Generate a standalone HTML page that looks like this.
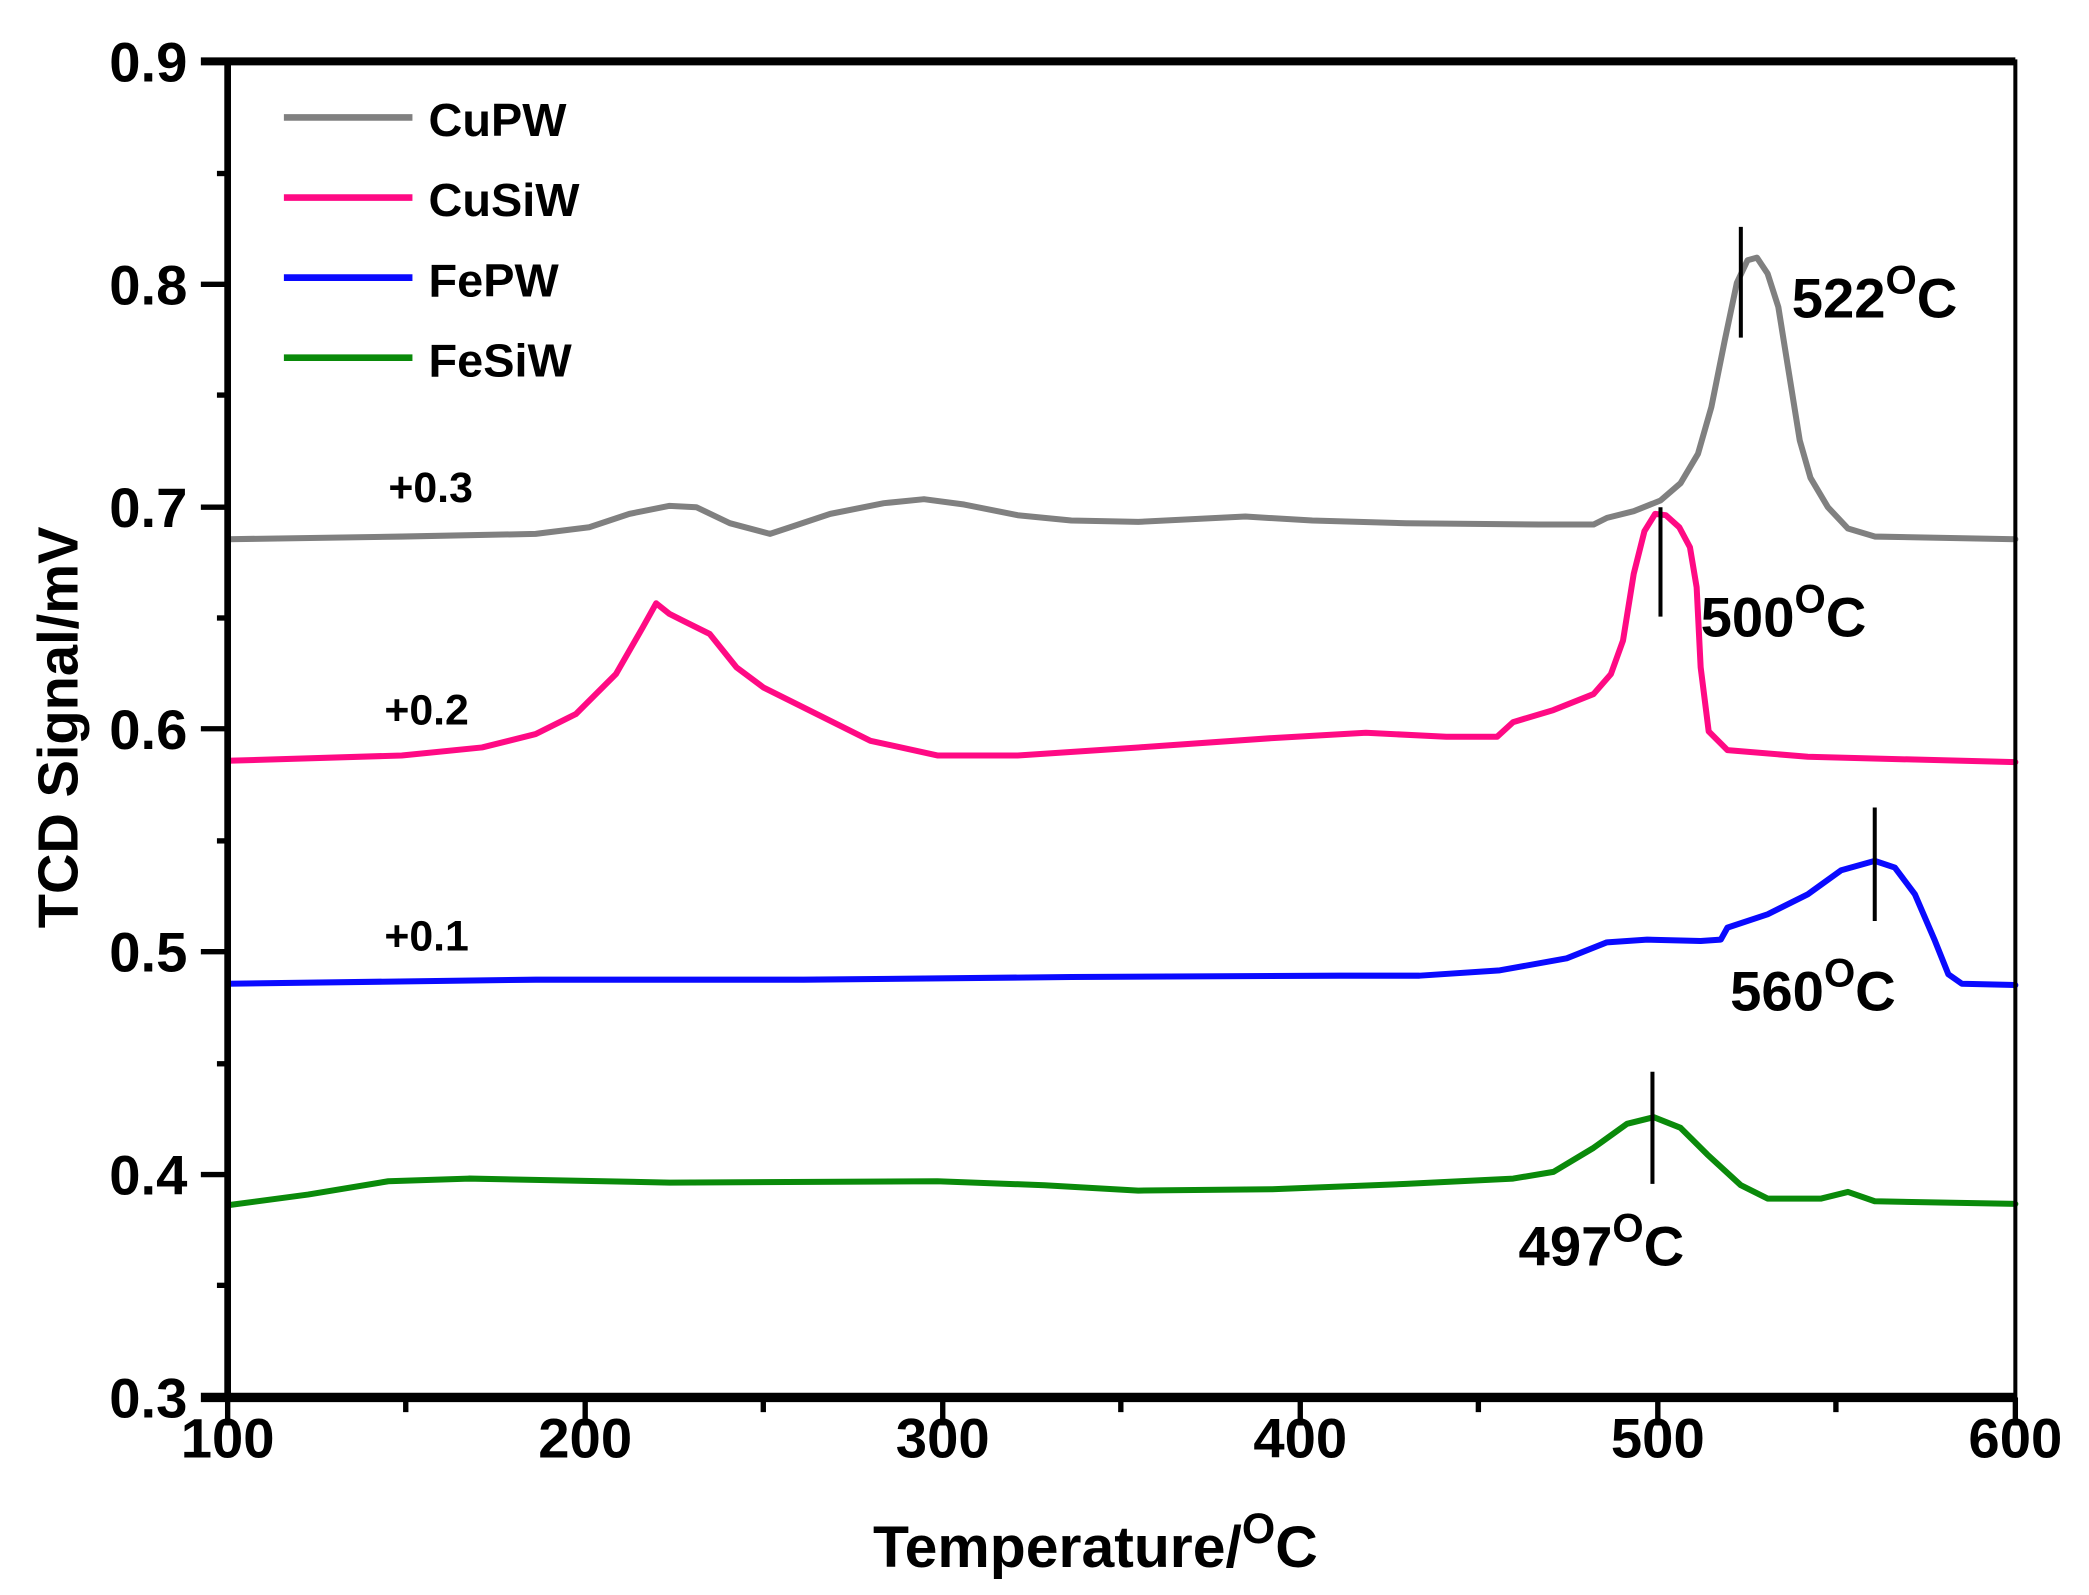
<!DOCTYPE html>
<html><head><meta charset="utf-8"><style>html,body{margin:0;padding:0;background:#fff}svg{display:block}</style></head>
<body>
<svg width="2089" height="1595" viewBox="0 0 1560 1195" preserveAspectRatio="none" xmlns="http://www.w3.org/2000/svg" font-family="Liberation Sans, sans-serif" font-weight="bold">
<rect width="1560" height="1195" fill="#fff"/>
<g fill="none" stroke-linejoin="round" stroke-linecap="round" stroke-width="4.5">
<polyline stroke="#808080" points="170,404 300,402 400,400 440,395 470,385 500,379 520,380 545,392 575,400 590,395 620,385 660,377 690,374 720,378 760,386 800,390 850,391 930,387 980,390 1050,392 1150,393 1190,393 1200,388 1220,383 1240,375 1255,362 1268,340 1278,305 1288,255 1297,212 1305,195 1312,193 1320,205 1328,230 1336,280 1344,330 1352,358 1365,380 1380,396 1400,402 1505,404"/>
<polyline stroke="#ff0a84" points="170,570 300,566 360,560 400,550 430,535 460,505 480,470 490,452 500,460 510,465 530,475 550,500 570,515 600,530 650,555 700,566 760,566 850,560 950,553 1020,549 1080,552 1118,552 1130,541 1160,532 1190,520 1203,505 1212,480 1220,430 1228,398 1236,385 1244,386 1254,395 1262,410 1267,440 1270,500 1276,548 1290,562 1350,567 1505,571"/>
<polyline stroke="#0a0aff" points="170,737 400,734 600,734 800,732 1000,731 1060,731 1120,727 1170,718 1200,706 1230,704 1270,705 1285,704 1290,695 1320,685 1350,670 1375,652 1400,645 1415,650 1430,670 1445,705 1455,730 1465,737 1505,738"/>
<polyline stroke="#0a8a0a" points="170,903 230,895 290,885 350,883 500,886 700,885 780,888 850,892 950,891 1050,887 1130,883 1160,878 1190,860 1215,842 1235,837 1255,845 1275,865 1300,888 1320,898 1360,898 1380,893 1400,900 1505,902"/>
</g>
<g stroke="#000" stroke-width="3">
<line x1="1300" y1="170" x2="1300" y2="253"/>
<line x1="1240" y1="380" x2="1240" y2="462"/>
<line x1="1400" y1="605" x2="1400" y2="690"/>
<line x1="1234" y1="803" x2="1234" y2="887"/>
</g>
<rect x="170" y="46" width="1335" height="1001" fill="none" stroke="#000" stroke-width="3"/>
<line x1="150" y1="46" x2="1505" y2="46" stroke="#000" stroke-width="6"/>
<line x1="150" y1="1047" x2="1505" y2="1047" stroke="#000" stroke-width="7"/>
<line x1="170" y1="46" x2="170" y2="1047" stroke="#000" stroke-width="5"/>
<g stroke="#000" stroke-width="4">
<line x1="150" y1="213" x2="170" y2="213"/><line x1="150" y1="380" x2="170" y2="380"/><line x1="150" y1="546" x2="170" y2="546"/><line x1="150" y1="713" x2="170" y2="713"/><line x1="150" y1="880" x2="170" y2="880"/>
<line x1="162" y1="130" x2="170" y2="130"/><line x1="162" y1="296" x2="170" y2="296"/><line x1="162" y1="463" x2="170" y2="463"/><line x1="162" y1="630" x2="170" y2="630"/><line x1="162" y1="797" x2="170" y2="797"/><line x1="162" y1="963" x2="170" y2="963"/>
<line x1="170" y1="1047" x2="170" y2="1068"/><line x1="437" y1="1047" x2="437" y2="1068"/><line x1="704" y1="1047" x2="704" y2="1068"/><line x1="971" y1="1047" x2="971" y2="1068"/><line x1="1238" y1="1047" x2="1238" y2="1068"/><line x1="1505" y1="1047" x2="1505" y2="1068"/>
<line x1="303" y1="1047" x2="303" y2="1058"/><line x1="570" y1="1047" x2="570" y2="1058"/><line x1="837" y1="1047" x2="837" y2="1058"/><line x1="1104" y1="1047" x2="1104" y2="1058"/><line x1="1371" y1="1047" x2="1371" y2="1058"/>
</g>
<g font-size="42" text-anchor="end">
<text x="140" y="61">0.9</text><text x="140" y="228">0.8</text><text x="140" y="395">0.7</text><text x="140" y="561">0.6</text><text x="140" y="728">0.5</text><text x="140" y="895">0.4</text><text x="140" y="1062">0.3</text>
</g>
<g font-size="42" text-anchor="middle">
<text x="170" y="1092">100</text><text x="437" y="1092">200</text><text x="704" y="1092">300</text><text x="971" y="1092">400</text><text x="1238" y="1092">500</text><text x="1505" y="1092">600</text>
</g>
<text x="818" y="1174" font-size="44" text-anchor="middle">Temperature/<tspan font-size="32" dy="-18">O</tspan><tspan dy="18">C</tspan></text>
<text transform="translate(58,545) rotate(-90)" font-size="42" text-anchor="middle">TCD Signal/mV</text>
<g stroke-width="5">
<line x1="212" y1="88" x2="308" y2="88" stroke="#808080"/>
<line x1="212" y1="148" x2="308" y2="148" stroke="#ff0a84"/>
<line x1="212" y1="208" x2="308" y2="208" stroke="#0a0aff"/>
<line x1="212" y1="268" x2="308" y2="268" stroke="#0a8a0a"/>
</g>
<g font-size="35">
<text x="320" y="102">CuPW</text><text x="320" y="162">CuSiW</text><text x="320" y="222">FePW</text><text x="320" y="282">FeSiW</text>
</g>
<g font-size="32">
<text x="290" y="376">+0.3</text><text x="287" y="543">+0.2</text><text x="287" y="712">+0.1</text>
</g>
<g font-size="42">
<text x="1338" y="238">522<tspan font-size="30" dy="-18">O</tspan><tspan dy="18">C</tspan></text>
<text x="1270" y="477">500<tspan font-size="30" dy="-18">O</tspan><tspan dy="18">C</tspan></text>
<text x="1292" y="757">560<tspan font-size="30" dy="-18">O</tspan><tspan dy="18">C</tspan></text>
<text x="1134" y="948">497<tspan font-size="30" dy="-18">O</tspan><tspan dy="18">C</tspan></text>
</g>
</svg>
</body></html>
